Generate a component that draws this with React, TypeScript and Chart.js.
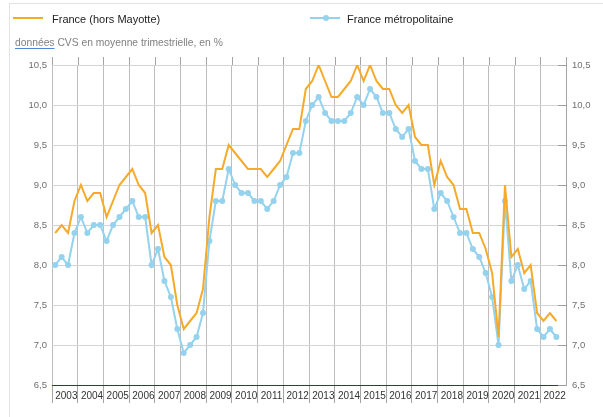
import React, { useEffect, useRef } from "react";
import { Chart, registerables } from "chart.js";

Chart.register(...registerables);

const years = [
  "2003", "2004", "2005", "2006", "2007", "2008", "2009", "2010", "2011", "2012",
  "2013", "2014", "2015", "2016", "2017", "2018", "2019", "2020", "2021", "2022",
];
const quarters = ["T1", "T2", "T3", "T4"];
const categories: string[] = years.flatMap((y) => quarters.map((q) => `${y} ${q}`));

const franceHorsMayotte = [
  8.4, 8.5, 8.4, 8.8,
  9.0, 8.8, 8.9, 8.9,
  8.6, 8.8, 9.0, 9.1,
  9.2, 9.0, 8.9, 8.4,
  8.5, 8.1, 8.0, 7.5,
  7.2, 7.3, 7.4, 7.7,
  8.6, 9.2, 9.2, 9.5,
  9.4, 9.3, 9.2, 9.2,
  9.2, 9.1, 9.2, 9.3,
  9.5, 9.7, 9.7, 10.2,
  10.3, 10.5, 10.3, 10.1,
  10.1, 10.2, 10.3, 10.5,
  10.3, 10.5, 10.3, 10.2,
  10.2, 10.0, 9.9, 10.0,
  9.6, 9.5, 9.5, 9.0,
  9.3, 9.1, 9.0, 8.7,
  8.7, 8.4, 8.4, 8.2,
  7.9, 7.1, 9.0, 8.1,
  8.2, 7.9, 8.0, 7.4,
  7.3, 7.4, 7.3,
];

const franceMetropolitaine = [
  8.0, 8.1, 8.0, 8.4,
  8.6, 8.4, 8.5, 8.5,
  8.3, 8.5, 8.6, 8.7,
  8.8, 8.6, 8.6, 8.0,
  8.2, 7.8, 7.6, 7.2,
  6.9, 7.0, 7.1, 7.4,
  8.3, 8.8, 8.8, 9.2,
  9.0, 8.9, 8.9, 8.8,
  8.8, 8.7, 8.8, 9.0,
  9.1, 9.4, 9.4, 9.8,
  10.0, 10.1, 9.9, 9.8,
  9.8, 9.8, 9.9, 10.1,
  10.0, 10.2, 10.1, 9.9,
  9.9, 9.7, 9.6, 9.7,
  9.3, 9.2, 9.2, 8.7,
  8.9, 8.8, 8.6, 8.4,
  8.4, 8.2, 8.1, 7.9,
  7.6, 7.0, 8.8, 7.8,
  8.0, 7.7, 7.8, 7.2,
  7.1, 7.2, 7.1,
];

const yTicks = [6.5, 7.0, 7.5, 8.0, 8.5, 9.0, 9.5, 10.0, 10.5];

const ORANGE = "#F6AA2A";
const BLUE = "#94D2EE";
const FONT = "'Liberation Sans', Arial, sans-serif";

const fmt = (v: number) => v.toFixed(1).replace(".", ",");

const extrasPlugin = {
  id: "extras",
  afterDraw(chart: any) {
    const { ctx, chartArea, scales } = chart;
    const x = scales.x;
    const y1 = scales.y1;
    ctx.save();
    ctx.lineWidth = 1;
    ctx.strokeStyle = "#a4a4a4";
    const half = (x.getPixelForValue(1) - x.getPixelForValue(0)) / 2;
    for (let i = 0; i <= categories.length; i += 4) {
      const px = Math.round(x.getPixelForValue(i) - half) + 0.5;
      ctx.beginPath();
      ctx.moveTo(px, chartArea.top - 8);
      ctx.lineTo(px, chartArea.top);
      ctx.stroke();
    }
    ctx.strokeStyle = "#9c9c9c";
    for (const v of yTicks) {
      const py = Math.round(y1.getPixelForValue(v)) + 0.5;
      ctx.beginPath();
      ctx.moveTo(chartArea.right - 8, py);
      ctx.lineTo(chartArea.right, py);
      ctx.stroke();
    }
    ctx.restore();
  },
};

export default function App() {
  const ref = useRef<HTMLCanvasElement | null>(null);

  useEffect(() => {
    if (!ref.current) return;
    const chart = new Chart(ref.current, {
      type: "line",
      data: {
        labels: categories,
        datasets: [
          {
            label: "France (hors Mayotte)",
            data: franceHorsMayotte,
            borderColor: ORANGE,
            backgroundColor: ORANGE,
            borderWidth: 2,
            pointRadius: 0,
            tension: 0,
          },
          {
            label: "France métropolitaine",
            data: franceMetropolitaine,
            borderColor: BLUE,
            backgroundColor: BLUE,
            borderWidth: 2,
            pointRadius: 3,
            pointBorderWidth: 0,
            pointBackgroundColor: BLUE,
            tension: 0,
          },
        ],
      },
      options: {
        animation: false,
        responsive: false,
        maintainAspectRatio: false,
        layout: { padding: { top: 65, left: 0, right: 0, bottom: 0 } },
        plugins: {
          legend: { display: false },
          tooltip: { enabled: false },
        },
        scales: {
          x: {
            type: "category",
            offset: true,
            border: { display: false },
            grid: {
              offset: true,
              drawTicks: true,
              tickLength: 18,
              color: (c: any) => (c.index % 4 === 0 ? "#bdbdbd" : "rgba(0,0,0,0)"),
              tickColor: (c: any) => (c.index % 4 === 0 ? "#a4a4a4" : "rgba(0,0,0,0)"),
            },
            ticks: {
              autoSkip: false,
              maxRotation: 0,
              minRotation: 0,
              align: "start",
              padding: -13,
              color: "#333333",
              font: { family: FONT, size: 10 },
              callback: (_v: any, i: number) => (i % 4 === 0 ? years[i / 4] : ""),
            },
            afterFit: (s: any) => {
              s.height = 32;
            },
          },
          y: {
            position: "left",
            min: 6.5,
            max: 10.5,
            border: { display: false },
            grid: {
              drawTicks: false,
              color: (c: any) => (c.tick && c.tick.value === 6.5 ? "#2E3192" : "#d4d4d4"),
            },
            ticks: {
              stepSize: 0.5,
              padding: 5,
              color: "#6e6e6e",
              font: { family: FONT, size: 9.5 },
              callback: (v: any) => fmt(Number(v)),
            },
            afterFit: (s: any) => {
              s.width = 52;
            },
          },
          y1: {
            position: "right",
            min: 6.5,
            max: 10.5,
            border: { display: true, color: "#a4a4a4" },
            grid: { drawOnChartArea: false, drawTicks: false },
            ticks: {
              stepSize: 0.5,
              padding: 6,
              color: "#6e6e6e",
              font: { family: FONT, size: 9.5 },
              callback: (v: any) => fmt(Number(v)),
            },
            afterFit: (s: any) => {
              s.width = 37;
            },
          },
        },
      },
      plugins: [extrasPlugin],
    });
    return () => chart.destroy();
  }, []);

  return (
    <div
      style={{
        position: "absolute",
        left: 0,
        top: 0,
        width: 603,
        height: 417,
        overflow: "hidden",
        background: "#ffffff",
        fontFamily: FONT,
      }}
    >
      <div
        style={{
          position: "absolute",
          left: 9,
          top: 3,
          width: 620,
          height: 440,
          borderLeft: "1px solid #e2e2e2",
          borderTop: "1px solid #e2e2e2",
        }}
      />
      <canvas
        ref={ref}
        width={603}
        height={417}
        style={{ position: "absolute", left: 0, top: 0, display: "block" }}
      />
      <div style={{ position: "absolute", left: 13, top: 17, width: 30, height: 2, background: ORANGE }} />
      <div
        style={{
          position: "absolute",
          left: 52,
          top: 12,
          fontSize: 11,
          lineHeight: "14px",
          color: "#222222",
          whiteSpace: "nowrap",
        }}
      >
        France (hors Mayotte)
      </div>
      <div style={{ position: "absolute", left: 310, top: 17, width: 30, height: 2, background: BLUE }} />
      <div
        style={{
          position: "absolute",
          left: 323,
          top: 15,
          width: 6,
          height: 6,
          borderRadius: 3,
          background: BLUE,
        }}
      />
      <div
        style={{
          position: "absolute",
          left: 347,
          top: 12,
          fontSize: 11,
          lineHeight: "14px",
          color: "#222222",
          whiteSpace: "nowrap",
        }}
      >
        France métropolitaine
      </div>
      <div
        style={{
          position: "absolute",
          left: 15,
          top: 36,
          fontSize: 10.3,
          lineHeight: "14px",
          color: "#808080",
          whiteSpace: "nowrap",
        }}
      >
        <span
          style={{
            textDecoration: "underline",
            textDecorationColor: "#4f86d9",
            textUnderlineOffset: "2px",
          }}
        >
          données
        </span>{" "}
        CVS en moyenne trimestrielle, en %
      </div>
    </div>
  );
}
